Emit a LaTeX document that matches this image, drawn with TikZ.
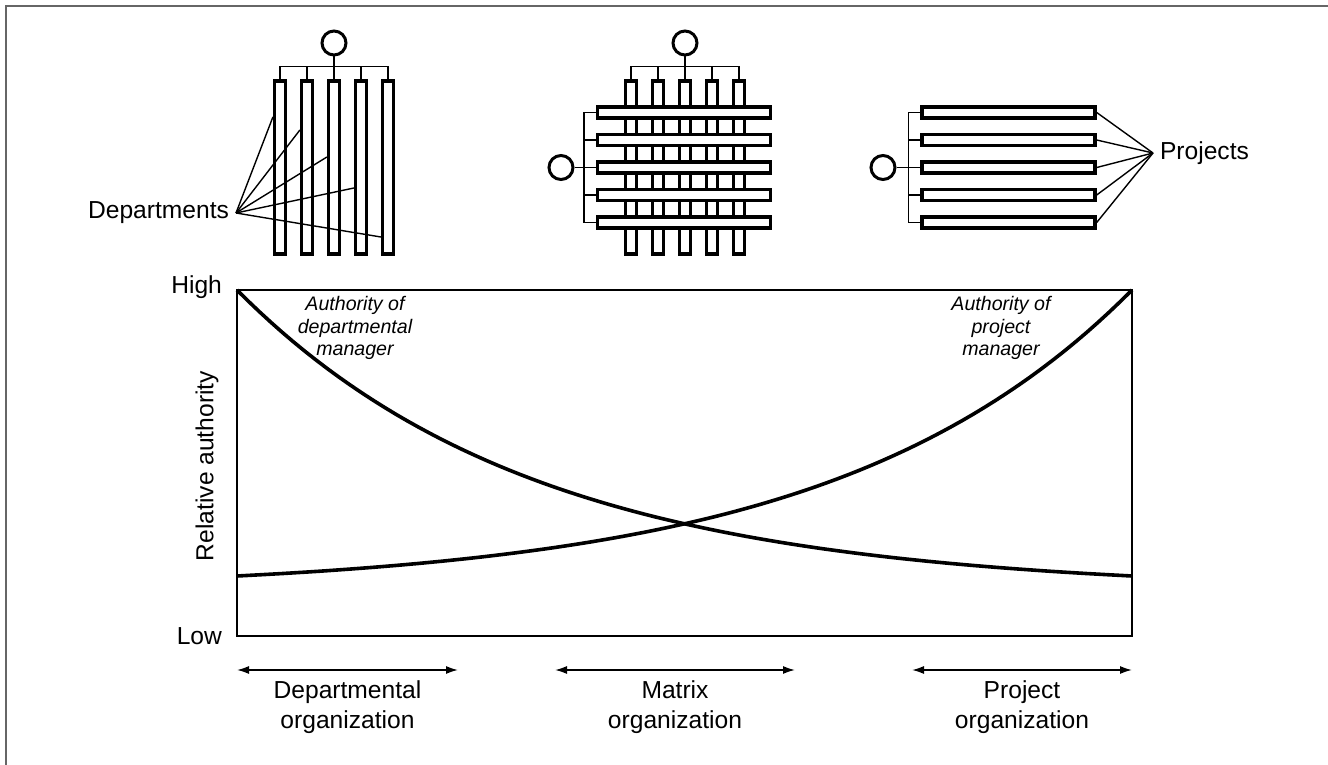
\documentclass[tikz,border=0pt]{standalone}
\usepackage{fontspec}
\setmainfont{Liberation Sans}
\usetikzlibrary{arrows.meta}

\tikzset{
  bar/.style={draw, fill=white, line width=1.7pt, inner sep=0pt},
  vbar/.style={bar, minimum width=5.4pt, minimum height=86.5pt},
  hbar/.style={bar, minimum width=86.5pt, minimum height=5.4pt},
  head/.style={draw, circle, fill=white, line width=1.5pt, inner sep=0pt, minimum size=12pt},
  link/.style={line width=0.7pt},
  curve/.style={line width=1.8pt},
  span/.style={line width=0.8pt, {Latex[length=6pt,width=4pt]}-{Latex[length=6pt,width=4pt]}},
  lab/.style={font=\fontsize{12.3}{15}\selectfont, align=center},
  note/.style={font=\fontsize{9.8}{11.25}\selectfont\itshape, align=center},
}

\begin{document}
\begin{tikzpicture}[x=0.5pt, y=-0.5pt]
  \useasboundingbox (0,0) rectangle (1328,765);
  \def\yb{167.5}  % centre of the vertical bars
  \def\xl{237}    % chart left
  \def\xr{1132}   % chart right
  \def\yt{290}    % chart top (high)
  \def\ylo{636}   % chart bottom (low)
  % --- frame ---
  \draw[black!60, line width=0.8pt] (6,765) -- (6,6) -- (1328,6);
  % --- departmental organization ---
  \foreach \i in {1,...,5}
    \node[vbar] (d\i) at ({253+27*\i},\yb) {};
  \node[head] (hd) at (334,43) {};
  \draw[link] (d1.north) -- ++(0,-12.5) -| (d5.north);
  \foreach \i in {2,3,4}
    \draw[link] (d\i.north) -- ++(0,-12.5);
  \draw[link] (hd) -- (d3.north);
  \node[lab, anchor=east] (dep) at (236,213) {Departments};
  \foreach \i/\yy in {1/117,2/130,3/157,4/188,5/237}
    \draw[link] (dep.east) -- (d\i.west |- 0,\yy);
  % --- matrix organization ---
  \foreach \i in {1,...,5}
    \node[vbar] (m\i) at ({604+27*\i},\yb) {};
  \node[head] (hm) at (685,43) {};
  \draw[link] (m1.north) -- ++(0,-12.5) -| (m5.north);
  \foreach \i in {2,3,4}
    \draw[link] (m\i.north) -- ++(0,-12.5);
  \draw[link] (hm) -- (m3.north);
  \foreach \j in {1,...,5}
    \node[hbar] (n\j) at (684,{85+27.5*\j}) {};
  \node[head] (hn) at (561,167.5) {};
  \draw[link] (n1.west) -- ++(-12,0) |- (n5.west);
  \foreach \j in {2,3,4}
    \draw[link] (n\j.west) -- ++(-12,0);
  \draw[link] (hn) -- (n3.west);
  % --- project organization ---
  \foreach \j in {1,...,5}
    \node[hbar] (p\j) at (1008.5,{85+27.5*\j}) {};
  \node[head] (hp) at (883,167.5) {};
  \draw[link] (p1.west) -- ++(-12,0) |- (p5.west);
  \foreach \j in {2,3,4}
    \draw[link] (p\j.west) -- ++(-12,0);
  \draw[link] (hp) -- (p3.west);
  \node[lab, anchor=west] (proj) at (1153,153) {Projects};
  \foreach \j in {1,...,5}
    \draw[link] (p\j.east) -- (proj.west);
  % --- authority chart ---
  \draw[line width=0.75pt] (\xl,\yt) rectangle (\xr,\ylo);
  \node[lab, anchor=east] (high) at (229,287) {High};
  \node[lab, anchor=east] (low) at (229,636) {Low};
  \node[lab, rotate=90] (rel) at (207,466) {Relative authority};
  \draw[curve] plot[domain=0:1, samples=80]
    ({\xl+895*\x}, {576-286*(exp(-3*\x)-exp(-3))/(1-exp(-3))});
  \draw[curve] plot[domain=0:1, samples=80]
    ({\xr-895*\x}, {576-286*(exp(-3*\x)-exp(-3))/(1-exp(-3))});
  \node[note] (dm) at (355,328) {Authority of\\departmental\\manager};
  \node[note] (pm) at (1001,328) {Authority of\\project\\manager};
  % --- organization ranges ---
  \foreach \n/\a/\b in {1/237/458, 2/555/795, 3/912/1132} {
    \coordinate (l\n) at (\a,670);
    \coordinate (r\n) at (\b,670);
    \draw[span] (l\n) -- (r\n);
  }
  \node[lab] (o1) at (347.5,707) {Departmental\\organization};
  \node[lab] (o2) at (675,707) {Matrix\\organization};
  \node[lab] (o3) at (1022,707) {Project\\organization};
\end{tikzpicture}
\end{document}
